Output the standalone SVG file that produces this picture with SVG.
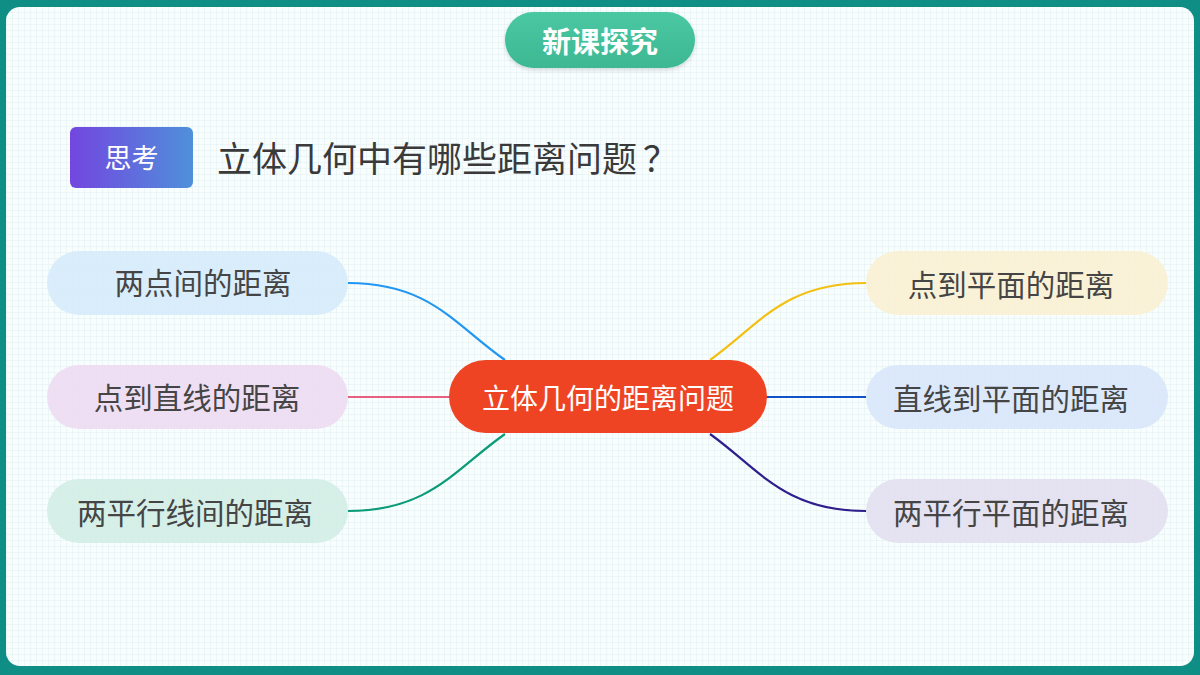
<svg xmlns="http://www.w3.org/2000/svg" width="1200" height="675" viewBox="0 0 1200 675">
<defs>
<pattern id="grid" width="6" height="6" patternUnits="userSpaceOnUse">
<path d="M6 0H0V6" fill="none" stroke="#dcecee" stroke-width="0.8"/>
</pattern>
<linearGradient id="think" x1="0" y1="0" x2="1" y2="0">
<stop offset="0" stop-color="#7346e0"/>
<stop offset="1" stop-color="#4f90da"/>
</linearGradient>
<linearGradient id="hdr" x1="0" y1="0" x2="0" y2="1">
<stop offset="0" stop-color="#4ac8a2"/>
<stop offset="1" stop-color="#3db893"/>
</linearGradient>
<filter id="sh" x="-20%" y="-30%" width="140%" height="170%">
<feDropShadow dx="0" dy="2" stdDeviation="2" flood-color="#000" flood-opacity="0.15"/>
</filter>
</defs>
<style>
.t{font-family:"Noto Sans CJK SC","Noto Sans",sans-serif;}
.leaf{font-size:29.5px;fill:#454545;text-anchor:middle;dominant-baseline:central;}
.conn{fill:none;stroke-width:2.2;}
</style>
<rect x="0" y="0" width="1200" height="675" fill="#0f8e86"/>
<rect x="6" y="7" width="1188" height="659" rx="14" fill="#f8fdfd"/>
<rect x="6" y="7" width="1188" height="659" rx="14" fill="url(#grid)"/>

<g id="header">
<rect x="505" y="12" width="190" height="56" rx="28" fill="url(#hdr)" filter="url(#sh)"/>
<text class="t" x="600" y="40" font-size="29" font-weight="bold" fill="#fff" text-anchor="middle" dominant-baseline="central">新课探究</text>
</g>

<g id="think-label">
<rect x="70" y="127" width="123" height="61" rx="6" fill="url(#think)"/>
<text class="t" x="131.5" y="156.5" font-size="27" fill="#fff" text-anchor="middle" dominant-baseline="central">思考</text>
</g>
<g id="question">
<text class="t" x="217" y="156" font-size="35" fill="#3a3a3a" dominant-baseline="central">立体几何中有哪些距离问题<tspan dx="6">？</tspan></text>
</g>

<g id="connectors">
<path class="conn" stroke="#2196f3" d="M348,283 C430,283 455,325 505,360"/>
<path class="conn" stroke="#e8607f" d="M348,397 H452"/>
<path class="conn" stroke="#0a9b78" d="M348,511 C430,511 455,469 505,434"/>
<path class="conn" stroke="#f2c012" d="M866,283 C784,283 759,325 710,360"/>
<path class="conn" stroke="#1152c8" d="M764,397 H866"/>
<path class="conn" stroke="#2e1f8c" d="M866,511 C784,511 759,469 710,434"/>
</g>

<g id="center">
<rect x="449" y="360" width="318" height="73" rx="36.5" fill="#ef4423"/>
<text class="t" x="608" y="397" font-size="28" fill="#fff" text-anchor="middle" dominant-baseline="central">立体几何的距离问题</text>
</g>

<g id="n1">
<rect x="47" y="251" width="301" height="64" rx="32" fill="#d6ebfb" fill-opacity="0.9"/>
<text class="t leaf" x="203" y="281">两点间的距离</text>
</g>
<g id="n2">
<rect x="47" y="365" width="301" height="64" rx="32" fill="#eddbf2" fill-opacity="0.9"/>
<text class="t leaf" x="197" y="396">点到直线的距离</text>
</g>
<g id="n3">
<rect x="47" y="479" width="301" height="64" rx="32" fill="#d2eee5" fill-opacity="0.9"/>
<text class="t leaf" x="195" y="511">两平行线间的距离</text>
</g>
<g id="n4">
<rect x="866" y="251" width="302" height="64" rx="32" fill="#faf1d3" fill-opacity="0.9"/>
<text class="t leaf" x="1011" y="283">点到平面的距离</text>
</g>
<g id="n5">
<rect x="866" y="365" width="302" height="64" rx="32" fill="#d8e7fb" fill-opacity="0.9"/>
<text class="t leaf" x="1011" y="397">直线到平面的距离</text>
</g>
<g id="n6">
<rect x="866" y="479" width="302" height="64" rx="32" fill="#e2dff0" fill-opacity="0.9"/>
<text class="t leaf" x="1011" y="511">两平行平面的距离</text>
</g>
</svg>
